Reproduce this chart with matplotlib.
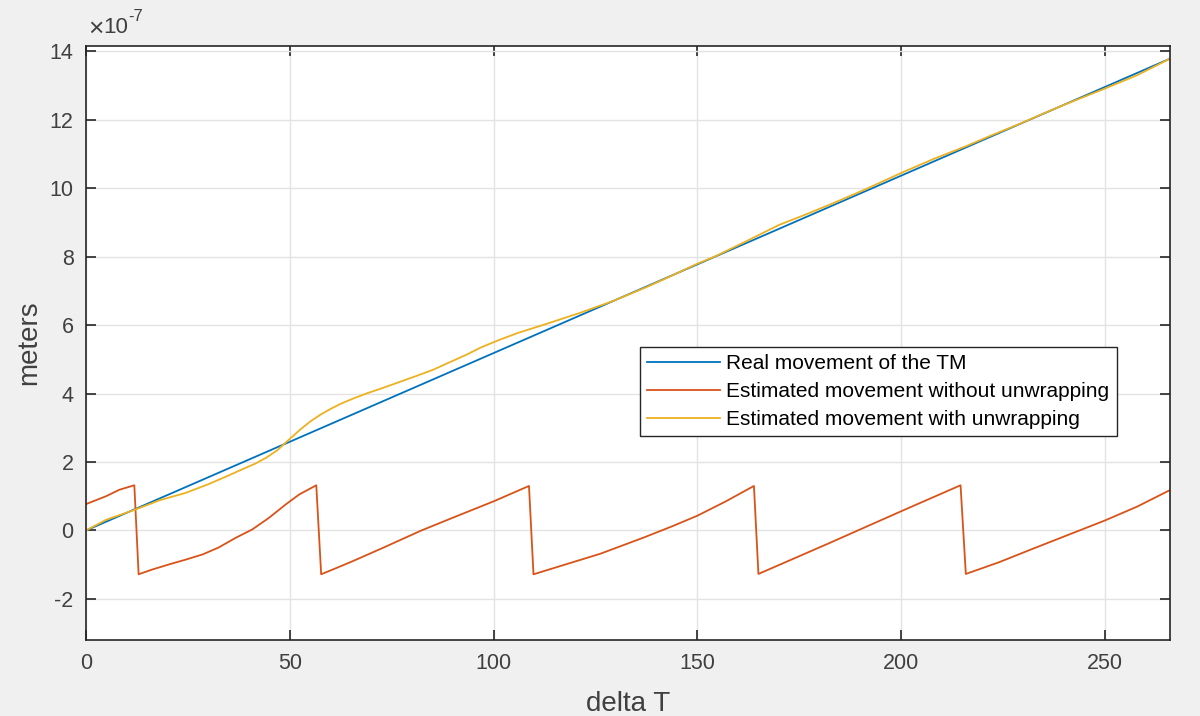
import matplotlib
matplotlib.use("Agg")
import matplotlib.pyplot as plt
from matplotlib.ticker import FuncFormatter
import numpy as np

plt.rcParams['font.family'] = ['Liberation Sans', 'DejaVu Sans']
plt.rcParams['axes.unicode_minus'] = False

# values in units of 1e-7 m
real_x = [0, 266]
real_y = [0, 13.78]

unwrap_x = [0, 4.9, 11.85, 18, 24.5, 30, 34.3, 38.6, 41.5, 44.3, 47, 49.3,
            52.5, 55, 57.5, 60, 62.5, 65.5, 68.8, 73, 77, 81, 85.1, 89, 93.3,
            97, 101.5, 106, 112.9, 121.1, 129.3, 137.4, 143, 149.8, 154.5,
            161.9, 170, 176, 183.2, 191, 200.2, 208, 215.9, 222, 229, 235,
            240.4, 249.9, 258, 266]
unwrap_y = [0, 0.31, 0.6, 0.88, 1.1, 1.35, 1.57, 1.8, 1.95, 2.13, 2.35, 2.6,
            2.94, 3.18, 3.38, 3.55, 3.7, 3.85, 4.0, 4.17, 4.34, 4.51, 4.69,
            4.9, 5.13, 5.35, 5.57, 5.77, 6.03, 6.35, 6.7, 7.1, 7.4, 7.78,
            8.01, 8.44, 8.92, 9.2, 9.55, 9.95, 10.45, 10.85, 11.22, 11.53,
            11.87, 12.18, 12.45, 12.9, 13.3, 13.78]

wrap_x = [0, 4.9, 8.2, 11.85, 12.9, 16, 20.4, 24.5, 28.6, 32.5, 36.8, 40.8,
          44.9, 49, 52.3, 56.5, 57.7, 65, 73, 82.3, 91, 100, 108.7, 109.8,
          118, 126.2, 137, 144, 150, 157, 163.9, 165, 182, 200, 214.6, 215.9,
          224, 232, 241, 250, 258, 266]
wrap_y = [0.77, 1.0, 1.19, 1.32, -1.28, -1.15, -0.99, -0.85, -0.70, -0.5,
          -0.21, 0.03, 0.37, 0.76, 1.05, 1.32, -1.28, -0.92, -0.5, 0, 0.42,
          0.85, 1.3, -1.28, -0.98, -0.68, -0.2, 0.13, 0.43, 0.85, 1.3, -1.27,
          -0.39, 0.56, 1.32, -1.27, -0.93, -0.55, -0.13, 0.29, 0.7, 1.18]

labels = ["Real movement of the TM",
          "Estimated movement without unwrapping",
          "Estimated movement with unwrapping"]
colors = ["#0072BD", "#D95319", "#EDB120"]
scale = 1e-7

fig = plt.figure(figsize=(12, 7.16), dpi=100, facecolor="#f0f0f0")
ax = fig.add_axes([0.0717, 0.1061, 0.9033, 0.8297])
ax.set_facecolor("white")

ax.plot(real_x, np.array(real_y) * scale, color=colors[0], lw=1.3, label=labels[0])
ax.plot(wrap_x, np.array(wrap_y) * scale, color=colors[1], lw=1.3, label=labels[1])
ax.plot(unwrap_x, np.array(unwrap_y) * scale, color=colors[2], lw=1.3, label=labels[2])

ax.set_xlim(0, 266)
ax.set_ylim(-3.2e-7, 14.15e-7)
ax.set_xticks(np.arange(0, 251, 50))
ax.set_yticks(np.arange(-2, 15, 2) * scale)
ax.yaxis.set_major_formatter(FuncFormatter(lambda v, _: f"{v / scale:.0f}"))

# exponent label like matlab's
t = ax.text(0.002, 1.008, "\u00d7", transform=ax.transAxes, fontsize=19,
            color="#404040", ha="left", va="bottom")
t2 = ax.annotate("10", xy=(1, 0.12), xycoords=t, fontsize=16, color="#404040",
                 ha="left", va="bottom")
ax.annotate("-7", xy=(1, 0.7), xycoords=t2, fontsize=12, color="#404040",
            ha="left", va="bottom")

ax.grid(True, color="#e3e3e3", lw=1)
ax.set_axisbelow(True)
ax.tick_params(direction="in", length=7, width=1.2, colors="#262626",
               labelcolor="#404040", labelsize=15.5, top=True, right=True, pad=9)
for s in ax.spines.values():
    s.set_color("#262626")
    s.set_linewidth(1.2)

ax.set_xlabel("delta T", fontsize=20, color="#404040", va="center")
ax.set_ylabel("meters", fontsize=20, color="#404040", va="center")
ax.xaxis.set_label_coords(0.5, -0.108)
ax.yaxis.set_label_coords(-0.052, 0.5)

leg = ax.legend(loc="upper left", bbox_to_anchor=(0.511, 0.493), fontsize=15,
                fancybox=False, framealpha=1, edgecolor="#262626",
                handlelength=3.5, borderpad=0.35, labelspacing=0.42,
                handletextpad=0.3, borderaxespad=0)
leg.get_frame().set_linewidth(1.0)

fig.savefig("out.png", dpi=100, facecolor=fig.get_facecolor())
